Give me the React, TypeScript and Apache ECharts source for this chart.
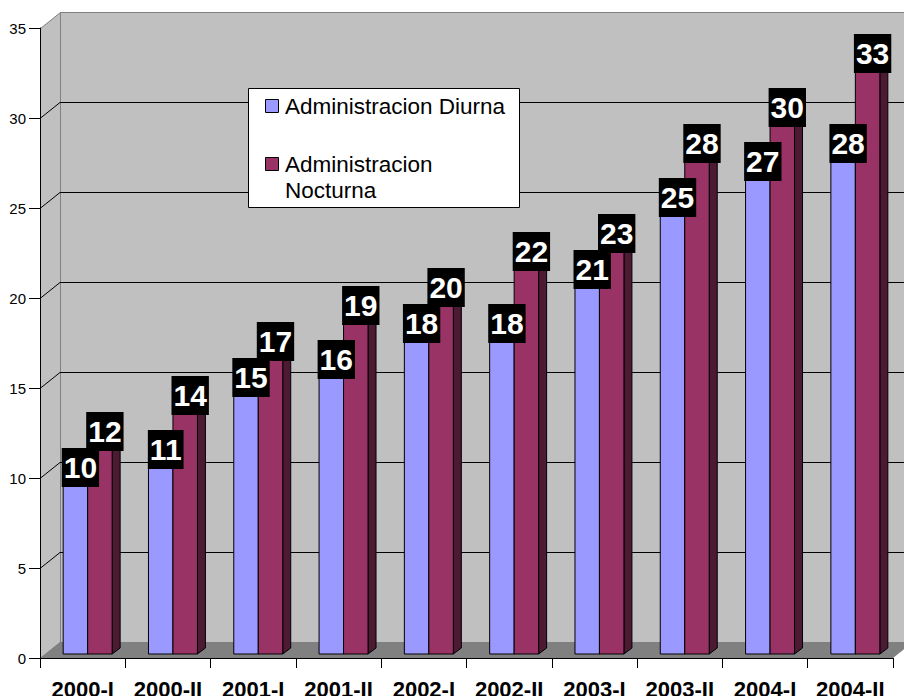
import React, { useEffect, useRef } from "react";
import * as echarts from "echarts";

const categories = ["2000-I", "2000-II", "2001-I", "2001-II", "2002-I", "2002-II", "2003-I", "2003-II", "2004-I", "2004-II"];
const diurna = [10, 11, 15, 16, 18, 18, 21, 25, 27, 28];
const nocturna = [12, 14, 17, 19, 20, 22, 23, 28, 30, 33];
const seriesNames = ["Administracion Diurna", "Administracion Nocturna"];
const yTicks = [0, 5, 10, 15, 20, 25, 30, 35];

const FONT = '"Liberation Sans", Arial, sans-serif';
const BLUE = "#9999ff";
const RED = "#993366";
const BLUE_SIDE = "#4d4d80";
const RED_SIDE = "#4d1a33";
const BLUE_TOP = "#b3b3ff";
const RED_TOP = "#b35c85";
const WALL = "#c0c0c0";
const FLOOR = "#808080";

const DX = 20;
const DY = -16;
const BX = 5;
const BY = -4;
const SD = 8;
const SDY = -6;

function decorRender(params: any, api: any) {
  const cs = params.coordSys;
  const X0 = cs.x;
  const X1 = cs.x + cs.width;
  const Y0 = api.coord([0, 0])[1];
  const Ytop = api.coord([0, yTicks[yTicks.length - 1]])[1];
  const children: any[] = [];
  children.push({
    type: "rect",
    shape: { x: X0 + DX + 0.5, y: Ytop + DY + 0.5, width: X1 - X0, height: Y0 - Ytop },
    style: { fill: WALL, stroke: FLOOR, lineWidth: 1 },
  });
  children.push({
    type: "polygon",
    shape: { points: [[X0 + 0.5, Ytop + 0.5], [X0 + DX + 0.5, Ytop + DY + 0.5], [X0 + DX + 0.5, Y0 + DY + 0.5], [X0 + 0.5, Y0 + 0.5]] },
    style: { fill: WALL, stroke: FLOOR, lineWidth: 1 },
  });
  yTicks.forEach((t) => {
    if (t === 0 || t === yTicks[yTicks.length - 1]) return;
    const y = Math.round(api.coord([0, t])[1]) + 0.5;
    children.push({
      type: "polyline",
      shape: { points: [[X0, y], [X0 + DX, y + DY], [X1 + DX, y + DY]] },
      style: { fill: null, stroke: "#000", lineWidth: 1 },
    });
  });
  children.push({
    type: "polygon",
    shape: { points: [[X0, Y0], [X0 + DX, Y0 + DY], [X1 + DX, Y0 + DY], [X1, Y0]] },
    style: { fill: FLOOR, stroke: "none" },
  });
  return { type: "group", children };
}

function makeBarRender(si: number) {
  return (params: any, api: any) => {
    const cat = api.value(0);
    const v = api.value(1);
    const base = api.coord([cat, 0]);
    const topP = api.coord([cat, v]);
    const bw = api.size([1, 0])[0];
    const w = bw * 0.287;
    const left = base[0] + BX + (si === 0 ? -w : 0);
    const right = left + w;
    const yb = base[1] + BY;
    const yt = topP[1] + BY;
    const front = si === 0 ? BLUE : RED;
    const side = si === 0 ? BLUE_SIDE : RED_SIDE;
    const topC = si === 0 ? BLUE_TOP : RED_TOP;
    return {
      type: "group",
      children: [
        {
          type: "polygon",
          z2: si + 1,
          shape: { points: [[right, yt], [right + SD, yt + SDY], [right + SD, yb + SDY], [right, yb]] },
          style: { fill: side, stroke: "#000", lineWidth: 1 },
        },
        {
          type: "polygon",
          z2: si + 1,
          shape: { points: [[left, yt], [left + SD, yt + SDY], [right + SD, yt + SDY], [right, yt]] },
          style: { fill: topC, stroke: "#000", lineWidth: 1 },
        },
        {
          type: "rect",
          z2: si + 1,
          shape: { x: left, y: yt, width: w, height: yb - yt },
          style: { fill: front, stroke: "#000", lineWidth: 1 },
        },
        {
          type: "text",
          z2: 10,
          x: (left + right) / 2 + 5,
          y: yt - 6.5,
          style: {
            text: String(v),
            fill: "#fff",
            font: `bold 30px ${FONT}`,
            align: "center",
            verticalAlign: "middle",
            lineHeight: 33,
            backgroundColor: "#000",
            padding: [3, 2, 3, 2],
          },
        },
      ],
    };
  };
}

export default function App() {
  const ref = useRef<HTMLDivElement>(null);
  useEffect(() => {
    const chart = echarts.init(ref.current!, null, { renderer: "svg" });
    const option: any = {
      animation: false,
      backgroundColor: "#fff",
      grid: { left: 40, right: 11, top: 28, bottom: 38, show: false, containLabel: false, outerBoundsMode: "none" },
      xAxis: {
        type: "category",
        data: categories,
        boundaryGap: true,
        z: 5,
        axisLine: { show: true, lineStyle: { color: "#000", width: 1 } },
        axisTick: { show: true, length: 10, interval: 0, lineStyle: { color: "#000" } },
        axisLabel: { interval: 0, color: "#000", fontSize: 22, fontWeight: "bold", fontFamily: FONT, margin: 20 },
        splitLine: { show: false },
      },
      yAxis: {
        type: "value",
        min: 0,
        max: 35,
        interval: 5,
        z: 5,
        axisLine: { show: true, lineStyle: { color: "#000", width: 1 } },
        axisTick: { show: true, length: 11, lineStyle: { color: "#000" } },
        axisLabel: { color: "#000", fontSize: 15, fontFamily: FONT, margin: 14 },
        splitLine: { show: false },
      },
      series: [
        { type: "custom", name: "decor", z: 1, clip: false, silent: true, renderItem: decorRender, data: [[0, 0]] },
        { type: "custom", name: seriesNames[0], z: 2, clip: false, renderItem: makeBarRender(0), data: diurna.map((v, i) => [i, v]) },
        { type: "custom", name: seriesNames[1], z: 2, clip: false, renderItem: makeBarRender(1), data: nocturna.map((v, i) => [i, v]) },
      ],
      graphic: [
        { type: "rect", z: 20, shape: { x: 248.5, y: 88.5, width: 271, height: 119 }, style: { fill: "#fff", stroke: "#000", lineWidth: 1 } },
        { type: "rect", z: 21, shape: { x: 265.5, y: 99.5, width: 13, height: 13 }, style: { fill: BLUE, stroke: "#000", lineWidth: 1 } },
        { type: "text", z: 21, x: 285, y: 106, style: { text: seriesNames[0], font: `22.5px ${FONT}`, fill: "#000", verticalAlign: "middle" } },
        { type: "rect", z: 21, shape: { x: 265.5, y: 157.5, width: 13, height: 13 }, style: { fill: RED, stroke: "#000", lineWidth: 1 } },
        { type: "text", z: 21, x: 285, y: 164, style: { text: "Administracion", font: `22.5px ${FONT}`, fill: "#000", verticalAlign: "middle" } },
        { type: "text", z: 21, x: 285, y: 190, style: { text: "Nocturna", font: `22.5px ${FONT}`, fill: "#000", verticalAlign: "middle" } },
      ],
    };
    chart.setOption(option);
    return () => chart.dispose();
  }, []);
  return <div ref={ref} style={{ position: "fixed", left: 0, top: 0, width: 904, height: 696 }} />;
}
